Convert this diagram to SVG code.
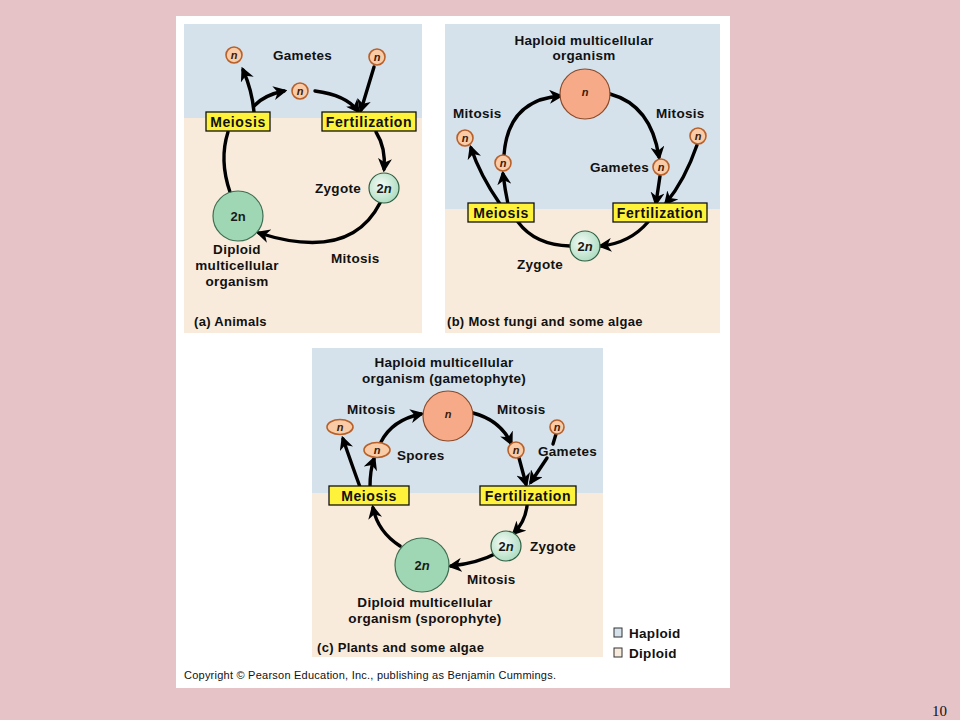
<svg xmlns="http://www.w3.org/2000/svg" width="960" height="720" viewBox="0 0 960 720">
<defs>
<style>
.lbl{font-family:"Liberation Sans",Arial,sans-serif;font-weight:bold;font-size:13.5px;letter-spacing:0.3px;fill:#111}
.box{fill:#fff23a;stroke:#111;stroke-width:1.3}
.bt{font-family:"Liberation Sans",Arial,sans-serif;font-weight:bold;font-size:14px;letter-spacing:0.6px;fill:#111;text-anchor:middle;dominant-baseline:central}
.sn{fill:#f9cba6;stroke:#b8602a;stroke-width:1.6}
.bn{fill:#f6aa88;stroke:#8a4a2a;stroke-width:1.2}
.nt{font-family:"Liberation Sans",Arial,sans-serif;font-weight:bold;font-style:italic;font-size:11px;fill:#3a1a0a;text-anchor:middle;dominant-baseline:central}
.nt2{font-family:"Liberation Sans",Arial,sans-serif;font-weight:bold;font-size:13px;fill:#1a1a1a;text-anchor:middle;dominant-baseline:central}
.zc{fill:url(#zg);stroke:#2f5e42;stroke-width:1.2}
.dc{fill:#9fd7b5;stroke:#3f6e52;stroke-width:1.2}
.arr{fill:none;stroke:#000;stroke-width:3.4;stroke-linecap:round}
.cap{font-family:"Liberation Sans",Arial,sans-serif;font-weight:bold;font-size:13px;letter-spacing:0.3px;fill:#111}
.hap{fill:#d5e2ec}
.dip{fill:#f8ebdb}
</style>
<radialGradient id="zg" cx="0.4" cy="0.4" r="0.7">
<stop offset="0" stop-color="#f4fbf6"/>
<stop offset="1" stop-color="#a6d9bb"/>
</radialGradient>
<marker id="ah" viewBox="0 0 12 12" refX="9" refY="6" markerWidth="14" markerHeight="14" markerUnits="userSpaceOnUse" orient="auto">
<path d="M0,0 L12,6 L0,12 L3.5,6 z" fill="#000"/>
</marker>
</defs>
<rect x="0" y="0" width="960" height="720" fill="#e5c3c7"/>
<rect x="176" y="16" width="554" height="672" fill="#ffffff"/>

<!-- Panel backgrounds -->
<g id="panel-a">
<rect x="184" y="24" width="238" height="94" class="hap"/>
<rect x="184" y="118" width="238" height="215" class="dip"/>
</g>
<g id="panel-b">
<rect x="445" y="24" width="275" height="185" class="hap"/>
<rect x="445" y="209" width="275" height="124" class="dip"/>
</g>
<g id="panel-c">
<rect x="312" y="348" width="291" height="145" class="hap"/>
<rect x="312" y="493" width="291" height="164" class="dip"/>
</g>

<!-- Connectors -->
<g id="connectors">
<!-- (a) -->
<path class="arr" d="M230 192 Q219 160 228 132"/>
<path class="arr" d="M254 112 Q252 90 243 70" marker-end="url(#ah)"/>
<path class="arr" d="M254 106 Q264 95 284 91" marker-end="url(#ah)"/>
<path class="arr" d="M315 91 Q346 95 358 111" marker-end="url(#ah)"/>
<path class="arr" d="M374 67 L361 110" marker-end="url(#ah)"/>
<path class="arr" d="M376 132 Q386 148 384 169" marker-end="url(#ah)"/>
<path class="arr" d="M380 203 Q350 262 259 233" marker-end="url(#ah)"/>
<!-- (b) -->
<path class="arr" d="M500 204 Q480 175 471 148" marker-end="url(#ah)"/>
<path class="arr" d="M508 204 Q505 190 503 174" marker-end="url(#ah)"/>
<path class="arr" d="M504 155 Q508 100 560 96" marker-end="url(#ah)"/>
<path class="arr" d="M610 94 Q651 105 659 157" marker-end="url(#ah)"/>
<path class="arr" d="M660 176 L656 203" marker-end="url(#ah)"/>
<path class="arr" d="M697 145 Q685 180 666 203" marker-end="url(#ah)"/>
<path class="arr" d="M648 222 Q630 243 601 246" marker-end="url(#ah)"/>
<path class="arr" d="M570 246 Q535 245 518 222"/>
<!-- (c) -->
<path class="arr" d="M360 487 Q352 465 343 439" marker-end="url(#ah)"/>
<path class="arr" d="M370 487 Q370 470 374 459" marker-end="url(#ah)"/>
<path class="arr" d="M381 442 Q392 420 421 414" marker-end="url(#ah)"/>
<path class="arr" d="M473 413 Q500 420 511 443" marker-end="url(#ah)"/>
<path class="arr" d="M519 458 L526 484" marker-end="url(#ah)"/>
<path class="arr" d="M547 458 L531 482" marker-end="url(#ah)"/>
<path class="arr" d="M556 434 L553 444"/>
<path class="arr" d="M527 506 Q525 522 514 533" marker-end="url(#ah)"/>
<path class="arr" d="M497 553 Q478 563 451 566" marker-end="url(#ah)"/>
<path class="arr" d="M400 546 Q378 532 373 508" marker-end="url(#ah)"/>
</g>

<!-- Panel (a) nodes -->
<g id="a-gamete-left"><circle class="sn" cx="234" cy="55" r="8"/><text class="nt" x="234" y="55">n</text></g>
<g id="a-gamete-mid"><circle class="sn" cx="300" cy="91" r="8"/><text class="nt" x="300" y="91">n</text></g>
<g id="a-gamete-right"><circle class="sn" cx="377" cy="57" r="8"/><text class="nt" x="377" y="57">n</text></g>
<text class="lbl" x="273" y="60">Gametes</text>
<g id="a-meiosis"><rect class="box" x="206" y="112" width="64" height="19"/><text class="bt" x="238" y="122">Meiosis</text></g>
<g id="a-fertilization"><rect class="box" x="322" y="112" width="94" height="19"/><text class="bt" x="369" y="122">Fertilization</text></g>
<g id="a-zygote"><circle class="zc" cx="384" cy="188" r="15"/><text class="nt2" x="384" y="188">2<tspan font-style="italic">n</tspan></text>
<text class="lbl" x="315" y="193">Zygote</text></g>
<g id="a-diploid"><circle class="dc" cx="238" cy="216" r="25"/><text class="nt2" x="238" y="216">2n</text>
<text class="lbl" x="237" y="254" text-anchor="middle">Diploid</text>
<text class="lbl" x="237" y="270" text-anchor="middle">multicellular</text>
<text class="lbl" x="237" y="286" text-anchor="middle">organism</text></g>
<text class="lbl" x="331" y="263">Mitosis</text>
<text class="cap" x="194" y="326">(a) Animals</text>

<!-- Panel (b) nodes -->
<g id="b-haploid"><text class="lbl" x="584" y="45" text-anchor="middle">Haploid multicellular</text>
<text class="lbl" x="584" y="60" text-anchor="middle">organism</text>
<circle class="bn" cx="585" cy="94" r="25"/><text class="nt" x="585" y="92">n</text></g>
<text class="lbl" x="453" y="118">Mitosis</text>
<text class="lbl" x="656" y="118">Mitosis</text>
<g id="b-n-farleft"><circle class="sn" cx="465" cy="138" r="8"/><text class="nt" x="465" y="138">n</text></g>
<g id="b-n-inner"><circle class="sn" cx="503" cy="163" r="8"/><text class="nt" x="503" y="163">n</text></g>
<g id="b-gamete"><circle class="sn" cx="661" cy="167" r="8"/><text class="nt" x="661" y="167">n</text></g>
<text class="lbl" x="590" y="172">Gametes</text>
<g id="b-n-farright"><circle class="sn" cx="698" cy="136" r="8"/><text class="nt" x="698" y="136">n</text></g>
<g id="b-meiosis"><rect class="box" x="468" y="203" width="66" height="19"/><text class="bt" x="501" y="213">Meiosis</text></g>
<g id="b-fertilization"><rect class="box" x="613" y="203" width="94" height="19"/><text class="bt" x="660" y="213">Fertilization</text></g>
<g id="b-zygote"><circle class="zc" cx="585" cy="246" r="15"/><text class="nt2" x="585" y="246">2<tspan font-style="italic">n</tspan></text>
<text class="lbl" x="517" y="269">Zygote</text></g>
<text class="cap" x="447" y="326">(b) Most fungi and some algae</text>

<!-- Panel (c) nodes -->
<g id="c-haploid"><text class="lbl" x="444" y="367" text-anchor="middle">Haploid multicellular</text>
<text class="lbl" x="444" y="383" text-anchor="middle">organism (gametophyte)</text>
<circle class="bn" cx="448" cy="416" r="25"/><text class="nt" x="448" y="414">n</text></g>
<text class="lbl" x="347" y="414">Mitosis</text>
<text class="lbl" x="497" y="414">Mitosis</text>
<g id="c-n-farleft"><ellipse class="sn" cx="340" cy="427" rx="13" ry="7.5"/><text class="nt" x="340" y="427">n</text></g>
<g id="c-spores"><ellipse class="sn" cx="377" cy="450" rx="13" ry="7.5"/><text class="nt" x="377" y="450">n</text>
<text class="lbl" x="397" y="460">Spores</text></g>
<g id="c-n-right"><circle class="sn" cx="516" cy="450" r="8"/><text class="nt" x="516" y="450">n</text></g>
<g id="c-gamete"><circle class="sn" cx="557" cy="427" r="7"/><text class="nt" x="557" y="427">n</text>
<text class="lbl" x="538" y="456">Gametes</text></g>
<g id="c-meiosis"><rect class="box" x="329" y="486" width="80" height="19"/><text class="bt" x="369" y="496">Meiosis</text></g>
<g id="c-fertilization"><rect class="box" x="480" y="486" width="96" height="19"/><text class="bt" x="528" y="496">Fertilization</text></g>
<g id="c-zygote"><circle class="zc" cx="506" cy="546" r="15"/><text class="nt2" x="506" y="546">2<tspan font-style="italic">n</tspan></text>
<text class="lbl" x="530" y="551">Zygote</text></g>
<g id="c-diploid"><circle class="dc" cx="422" cy="565" r="27"/><text class="nt2" x="422" y="565">2<tspan font-style="italic">n</tspan></text>
<text class="lbl" x="425" y="607" text-anchor="middle">Diploid multicellular</text>
<text class="lbl" x="425" y="623" text-anchor="middle">organism (sporophyte)</text></g>
<text class="lbl" x="467" y="584">Mitosis</text>
<text class="cap" x="317" y="652">(c) Plants and some algae</text>

<!-- Legend -->
<g id="legend">
<rect x="614" y="628" width="8" height="9" fill="#d5e2ec" stroke="#333" stroke-width="1"/>
<text class="lbl" x="629" y="638" font-size="13px" letter-spacing="0.2px">Haploid</text>
<rect x="614" y="648" width="8" height="9" fill="#f8ebdb" stroke="#333" stroke-width="1"/>
<text class="lbl" x="629" y="658" font-size="13px" letter-spacing="0.2px">Diploid</text>
</g>

<text x="184" y="679" font-family="Liberation Sans, Arial, sans-serif" font-size="11px" fill="#111" textLength="372">Copyright © Pearson Education, Inc., publishing as Benjamin Cummings.</text>
<text x="932" y="716" font-family="Liberation Serif, Times New Roman, serif" font-size="15px" fill="#111">10</text>
</svg>
